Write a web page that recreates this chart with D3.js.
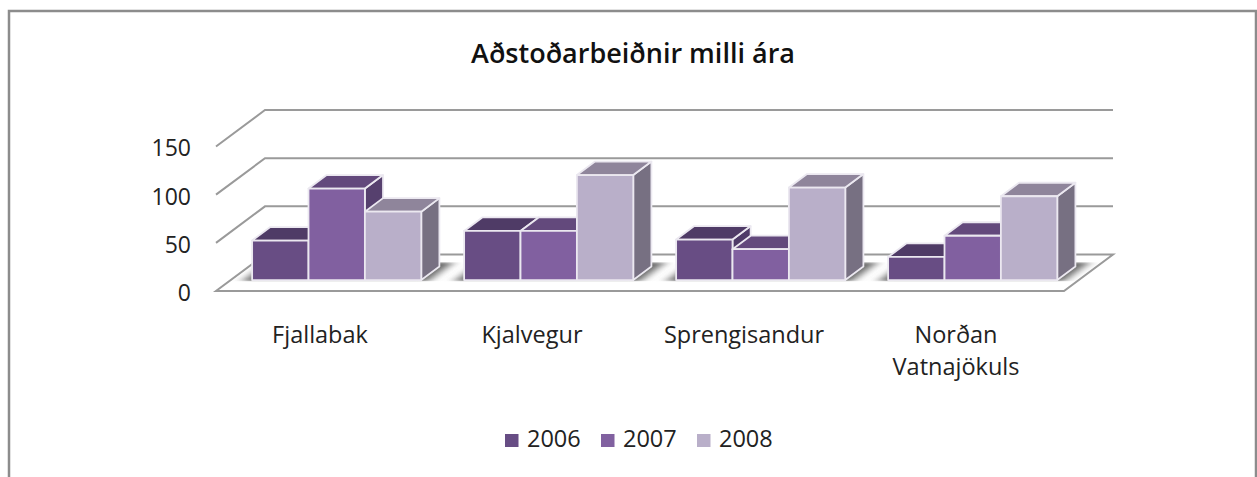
<!DOCTYPE html>
<html>
<head>
<meta charset="utf-8">
<script src="https://cdn.jsdelivr.net/npm/d3@7"></script>
<style>
  html, body { margin: 0; padding: 0; background: #fff; }
  svg { display: block; }
  text { font-family: "Open Sans", Lato, sans-serif; fill: #222; }
</style>
</head>
<body>
<svg id="chart" width="1257" height="477"></svg>
<script>
const categories = ['Fjallabak', 'Kjalvegur', 'Sprengisandur', 'Norðan Vatnajökuls'];
const years = ['2006', '2007', '2008'];
const values2006 = [41, 51, 42, 24];
const values2007 = [95, 51, 32, 46];
const values2008 = [71, 109, 96, 87];
const yTicks = [0, 50, 100, 150];
const chartTitle = 'Aðstoðarbeiðnir milli ára';

const seriesValues = [values2006, values2007, values2008];
const frontColors = ['#674d84', '#8161a0', '#b9afc9'];
const topColors = ['#503a66', '#634a7c', '#8f859b'];
const sideColors = ['#4f3a68', '#573f6e', '#776f82'];

const svg = d3.select('#chart');

// frame, open at the bottom
svg.append('path')
  .attr('d', 'M9,477V11H1256V477')
  .attr('fill', 'none')
  .attr('stroke', '#8c8c8c')
  .attr('stroke-width', 2.5);

svg.append('text')
  .attr('x', 633).attr('y', 63)
  .attr('text-anchor', 'middle')
  .style('font-size', '27px').style('font-weight', 600)
  .style('fill', '#111')
  .text(chartTitle);

// front plane scales
const x = d3.scaleBand().domain(categories).range([216, 1064]);
const xBar = d3.scaleBand().domain(years).range([0, x.bandwidth()]).paddingInner(0).paddingOuter(0.38);
const y = d3.scaleLinear().domain([0, 150]).range([291, 146.5]);

// oblique projection: depth 0 = front of the floor, 1 = back wall
const depthX = d3.scaleLinear().domain([0, 1]).range([0, 49]);
const depthY = d3.scaleLinear().domain([0, 1]).range([0, -36.5]);
const barFront = 0.3, barBack = 0.67;
const shadowFront = 0.27, shadowBack = 0.79;

const pt = (px, val, d) => [px + depthX(d), y(val) + depthY(d)];
const poly = pts => pts.map(p => p.join(',')).join(' ');

const defs = svg.append('defs');
defs.append('filter').attr('id', 'soft')
  .attr('x', '-20%').attr('y', '-60%').attr('width', '140%').attr('height', '220%')
  .append('feGaussianBlur').attr('stdDeviation', '6 1.5');
defs.append('filter').attr('id', 'smooth')
  .append('feGaussianBlur').attr('stdDeviation', 0.45);
const floorPts = [pt(216, 0, 0), pt(1064, 0, 0), pt(1064, 0, 1), pt(216, 0, 1)];
defs.append('clipPath').attr('id', 'shadowClip')
  .append('polygon')
  .attr('points', poly([pt(216, 0, shadowFront), pt(1064, 0, shadowFront), pt(1064, 0, shadowBack), pt(216, 0, shadowBack)]));

const plot = svg.append('g').attr('filter', 'url(#smooth)');

// floor
plot.append('polygon')
  .attr('points', poly(floorPts))
  .attr('fill', '#fff')
  .attr('stroke', '#9a9a9a')
  .attr('stroke-width', 2);

// gridlines on the back wall and side wall
yTicks.slice(1).forEach(t => {
  plot.append('polyline')
    .attr('points', poly([pt(216, t, 0), pt(216, t, 1), pt(1064, t, 1)]))
    .attr('fill', 'none')
    .attr('stroke', '#9a9a9a')
    .attr('stroke-width', 2);
});

// shadows under the bar groups
plot.append('g').attr('clip-path', 'url(#shadowClip)')
  .selectAll('polygon')
  .data(categories)
  .enter()
  .append('polygon')
  .attr('filter', 'url(#soft)')
  .attr('fill', '#666')
  .attr('points', c => {
    const left = x(c) + xBar(years[0]) - 8;
    const right = x(c) + xBar(years[2]) + xBar.bandwidth() + 8;
    return poly([pt(left, 0, shadowFront), pt(right, 0, shadowFront), pt(right, 0, shadowBack), pt(left, 0, shadowBack)]);
  });

// bars, drawn left to right so each one covers the side of the previous
const barStroke = '#ebe8f0';
categories.forEach((c, ci) => {
  years.forEach((yr, si) => {
    const v = seriesValues[si][ci];
    const x0 = x(c) + xBar(yr);
    const x1 = x0 + xBar.bandwidth();
    const g = plot.append('g')
      .attr('stroke', barStroke)
      .attr('stroke-width', 1.8)
      .attr('stroke-linejoin', 'round');
    g.append('polygon')
      .attr('fill', sideColors[si])
      .attr('points', poly([pt(x1, 0, barFront), pt(x1, 0, barBack), pt(x1, v, barBack), pt(x1, v, barFront)]));
    g.append('polygon')
      .attr('fill', topColors[si])
      .attr('points', poly([pt(x0, v, barFront), pt(x1, v, barFront), pt(x1, v, barBack), pt(x0, v, barBack)]));
    g.append('polygon')
      .attr('fill', frontColors[si])
      .attr('points', poly([pt(x0, 0, barFront), pt(x1, 0, barFront), pt(x1, v, barFront), pt(x0, v, barFront)]));
  });
});

// y axis labels
const yAxis = svg.append('g')
  .attr('transform', 'translate(216,2)')
  .call(d3.axisLeft(y).tickValues(yTicks).tickSize(0).tickPadding(25));
yAxis.select('.domain').remove();
yAxis.selectAll('text').style('font-size', '23px').style('font-family', '"Open Sans"');

// category labels, wrapped on the space for the last one
categories.forEach(c => {
  const t = svg.append('text')
    .attr('text-anchor', 'middle')
    .style('font-size', '23.5px');
  const lines = c === 'Norðan Vatnajökuls' ? c.split(' ') : [c];
  lines.forEach((ln, i) => {
    t.append('tspan')
      .attr('x', x(c) + x.bandwidth() / 2 - 2)
      .attr('y', 343 + i * 32)
      .text(ln);
  });
});

// legend
const legendX = d3.scalePoint().domain(years).range([505, 697]);
const legend = svg.append('g').selectAll('g')
  .data(years)
  .enter()
  .append('g')
  .attr('transform', d => `translate(${legendX(d)},434)`);
legend.append('rect')
  .attr('width', 13.5).attr('height', 13)
  .attr('fill', (d, i) => frontColors[i]);
legend.append('text')
  .attr('x', 22)
  .attr('y', 13)
  .style('font-size', '23.5px')
  .text(d => d);
</script>
</body>
</html>
